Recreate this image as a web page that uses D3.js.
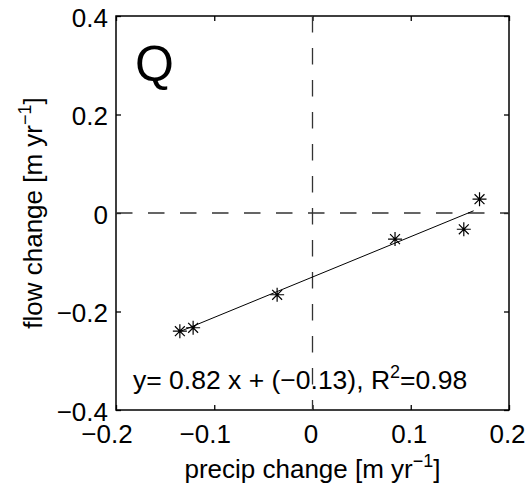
<!DOCTYPE html>
<html>
<head>
<meta charset="utf-8">
<script src="https://cdn.jsdelivr.net/npm/d3@7"></script>
<style>
  body { margin: 0; background: #fff; }
  svg { display: block; }
  text { font-family: "Liberation Sans", Arial, Helvetica, sans-serif; fill: #000; }
</style>
</head>
<body>
<svg id="chart" width="529" height="491"></svg>
<script>
// data
const precipChange = [-0.135, -0.1215, -0.036, 0.084, 0.154, 0.170];
const flowChange = [-0.240, -0.233, -0.166, -0.053, -0.033, 0.028];
const fitSlope = 0.82, fitIntercept = -0.13, fitR2 = 0.98;
const fitRange = [-0.135, 0.164];
const xTicks = [-0.2, -0.1, 0, 0.1, 0.2];
const yTicks = [-0.4, -0.2, 0, 0.2, 0.4];
const panelLabel = "Q";

const width = 529, height = 491;
const m = { left: 116, right: 20, top: 16, bottom: 81 };
const fs = 26;

const svg = d3.select("#chart");
const x = d3.scaleLinear().domain([-0.2, 0.2]).range([m.left, width - m.right]);
const y = d3.scaleLinear().domain([-0.4, 0.4]).range([height - m.bottom, m.top]);

const fmt = v => (v === 0 ? "0" : d3.format(".1f")(v).replace("-", "\u2212"));
const tickLen = 5;

// bottom axis (ticks inside), minus sign hangs left of the centred number
svg.append("g")
  .attr("transform", `translate(0,${y.range()[0]})`)
  .call(d3.axisBottom(x).tickValues(xTicks).tickFormat(fmt).tickSizeInner(-tickLen).tickSizeOuter(0).tickPadding(15))
  .call(g => g.select(".domain").remove())
  .call(g => g.selectAll("line").attr("stroke-width", 1.3))
  .call(g => g.selectAll("text")
    .attr("font-size", fs).attr("font-family", null)
    .attr("dx", d => (d < 0 ? -9.5 : -2)));
// left axis
svg.append("g")
  .attr("transform", `translate(${x.range()[0]},0)`)
  .call(d3.axisLeft(y).tickValues(yTicks).tickFormat(fmt).tickSizeInner(-tickLen).tickSizeOuter(0).tickPadding(8))
  .call(g => g.select(".domain").remove())
  .call(g => g.selectAll("line").attr("stroke-width", 1.3))
  .call(g => g.selectAll("text").attr("font-size", fs).attr("font-family", null).attr("dy", "0.4em"));
// top and right ticks
svg.append("g")
  .attr("transform", `translate(0,${y.range()[1]})`)
  .call(d3.axisTop(x).tickValues(xTicks).tickFormat("").tickSizeInner(-tickLen).tickSizeOuter(0))
  .call(g => g.select(".domain").remove())
  .call(g => g.selectAll("line").attr("stroke-width", 1.3));
svg.append("g")
  .attr("transform", `translate(${x.range()[1]},0)`)
  .call(d3.axisRight(y).tickValues(yTicks).tickFormat("").tickSizeInner(-tickLen).tickSizeOuter(0))
  .call(g => g.select(".domain").remove())
  .call(g => g.selectAll("line").attr("stroke-width", 1.3));

// box
svg.append("rect")
  .attr("x", x(-0.2)).attr("y", y(0.4))
  .attr("width", x(0.2) - x(-0.2)).attr("height", y(-0.4) - y(0.4))
  .attr("fill", "none").attr("stroke", "#000").attr("stroke-width", 1.5);

// zero lines
svg.append("line")
  .attr("x1", x(0)).attr("x2", x(0)).attr("y1", y(0.4)).attr("y2", y(-0.4))
  .attr("stroke", "#333").attr("stroke-width", 1.3).attr("stroke-dasharray", "16.5,15.5");
svg.append("line")
  .attr("x1", x(-0.2)).attr("x2", x(0.2)).attr("y1", y(0)).attr("y2", y(0))
  .attr("stroke", "#333").attr("stroke-width", 1.3).attr("stroke-dasharray", "16.5,15.5");

// fit line
svg.append("line")
  .attr("x1", x(fitRange[0])).attr("y1", y(fitSlope * fitRange[0] + fitIntercept))
  .attr("x2", x(fitRange[1])).attr("y2", y(fitSlope * fitRange[1] + fitIntercept))
  .attr("stroke", "#000").attr("stroke-width", 1);

// asterisk markers
const star = d3.range(4).map(i => {
  const a = i * Math.PI / 4, r = 7;
  return `M${-r * Math.cos(a)},${-r * Math.sin(a)}L${r * Math.cos(a)},${r * Math.sin(a)}`;
}).join("");
svg.append("g").selectAll("path")
  .data(precipChange.map((v, i) => [v, flowChange[i]]))
  .join("path")
  .attr("transform", d => `translate(${x(d[0])},${y(d[1])})`)
  .attr("d", star)
  .attr("stroke", "#000").attr("stroke-width", 1.2);

// panel label
svg.append("text")
  .attr("x", 135).attr("y", 81)
  .attr("font-size", 50)
  .text(panelLabel);

// equation
const eq = svg.append("text")
  .attr("x", 133).attr("y", 389)
  .attr("font-size", 26.5);
eq.append("tspan").text(`y= ${fitSlope} x + (\u2212${Math.abs(fitIntercept)}), R`);
eq.append("tspan").attr("font-size", 18).attr("dy", -11).text("2");
eq.append("tspan").attr("dy", 11).text(`=${fitR2}`);

// axis labels
const xl = svg.append("text")
  .attr("x", x(0)).attr("y", 478)
  .attr("text-anchor", "middle").attr("font-size", fs);
xl.append("tspan").text("precip change [m yr");
xl.append("tspan").attr("font-size", 18).attr("dy", -11).text("\u22121");
xl.append("tspan").attr("dy", 11).text("]");

const yl = svg.append("text")
  .attr("transform", `translate(42,${y(0)}) rotate(-90)`)
  .attr("text-anchor", "middle").attr("font-size", fs);
yl.append("tspan").text("flow change [m yr");
yl.append("tspan").attr("font-size", 18).attr("dy", -11).text("\u22121");
yl.append("tspan").attr("dy", 11).text("]");
</script>
</body>
</html>
